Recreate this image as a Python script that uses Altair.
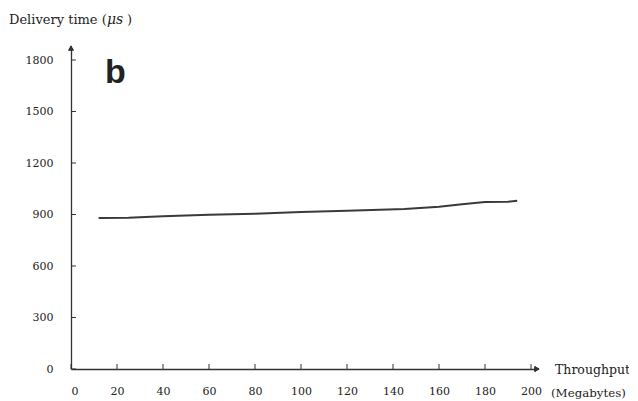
import altair as alt
import pandas as pd

# data
throughput = [12, 25, 40, 60, 80, 100, 120, 145, 160, 170, 180, 190, 194]
delivery = [880, 881, 890, 898, 905, 914, 922, 932, 945, 960, 973, 974, 980]
x_ticks = [0, 20, 40, 60, 80, 100, 120, 140, 160, 180, 200]
y_ticks = [0, 300, 600, 900, 1200, 1500, 1800]

W, H = 466, 321
FONT = "DejaVu Serif"
INK = "#333333"

xs = alt.Scale(domain=[0, 202.6], nice=False)
ys = alt.Scale(domain=[0, 1870], nice=False)

x_axis = alt.Axis(values=x_ticks, ticks=False, grid=False, title=None, labelPadding=16,
                  labelFont=FONT, labelFontSize=11, labelColor="#222", format="d",
                  domainColor=INK, domainWidth=1.3)
y_axis = alt.Axis(values=y_ticks, ticks=False, grid=False, title=None, labelPadding=18,
                  labelFont=FONT, labelFontSize=11, labelColor="#222", format="d",
                  domainColor=INK, domainWidth=1.3)

df = pd.DataFrame({"t": throughput, "d": delivery})
xt = pd.DataFrame({"v": x_ticks})
yt = pd.DataFrame({"v": y_ticks})

line = alt.Chart(df).mark_line(color="#3a3a3a", strokeWidth=2).encode(
    x=alt.X("t:Q", scale=xs, axis=x_axis),
    y=alt.Y("d:Q", scale=ys, axis=y_axis),
)

xtick = alt.Chart(xt).mark_rule(color=INK, strokeWidth=1).encode(
    x=alt.X("v:Q", scale=xs, axis=x_axis), y=alt.value(H), y2=alt.value(H - 5))
ytick = alt.Chart(yt).mark_rule(color=INK, strokeWidth=1).encode(
    y=alt.Y("v:Q", scale=ys, axis=y_axis), x=alt.value(0), x2=alt.value(5))

arrow_x = alt.Chart(xt).mark_point(shape="triangle-right", filled=True, size=25,
                                   color=INK, opacity=1).encode(
    x=alt.value(W), y=alt.value(H))
arrow_y = alt.Chart(yt).mark_point(shape="triangle-up", filled=True, size=25,
                                   color=INK, opacity=1).encode(
    x=alt.value(0), y=alt.value(0))

def label(text, x, y, size=13, weight="normal", font=FONT, style="normal"):
    return alt.Chart(pd.DataFrame({"s": [text]})).mark_text(
        align="left", baseline="alphabetic", font=font, fontSize=size,
        fontWeight=weight, fontStyle=style, color="#222").encode(
        text="s:N", x=alt.value(x), y=alt.value(y))

t1 = label("Delivery time (", -62, -24)
t2 = label("μs", 36, -24, size=14, style="italic")
t3 = label(")", 56, -24)
tb = label("b", 34, 35, size=34, weight="bold", font="Liberation Sans")
tt = label("Throughput", 484, 326, size=12.5)
tm = label("(Megabytes)", 480, 349, size=11.8)

chart = alt.layer(line, xtick, ytick, arrow_x, arrow_y, t1, t2, t3, tb, tt, tm).properties(
    width=W, height=H,
    padding={"left": 63, "top": 40, "right": 92, "bottom": 32},
    autosize=alt.AutoSizeParams(type="none"),
).configure_view(stroke=None)

chart.save("out.html", embed_options={"renderer": "svg", "actions": False})
